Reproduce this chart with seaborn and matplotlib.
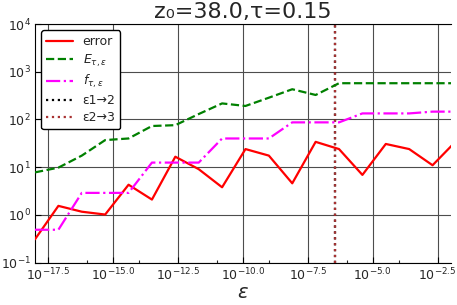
import numpy as np
import pandas as pd
import matplotlib
matplotlib.use("Agg")
import matplotlib.pyplot as plt
import matplotlib.ticker as mtick
import seaborn as sns

# exponents of epsilon (x values are 10**eps_exp)
eps_exp = [-18.0, -17.1, -16.2, -15.3, -14.4, -13.5, -12.6, -11.7, -10.8, -9.9,
           -9.0, -8.1, -7.2, -6.3, -5.4, -4.5, -3.6, -2.7, -1.8]
error = [0.31, 1.55, 1.17, 1.02, 4.3, 2.1, 16.6, 9.1, 3.8, 24,
         17.5, 4.6, 34, 24, 6.9, 30.7, 24, 11, 35]
E_te = [7.8, 9.8, 17.5, 37, 40, 73, 76, 130, 217, 192,
        286, 430, 326, 575, 575, 575, 575, 575, 575]
f_te = [0.49, 0.49, 2.9, 2.9, 2.9, 12.5, 12.5, 12.5, 40, 40,
        40, 87, 87, 87, 134, 134, 134, 146, 146]
eps12_exp = -6.45
eps23_exp = -6.45
xtick_exp = [-17.5, -15.0, -12.5, -10.0, -7.5, -5.0, -2.5]
xminor_exp = [-16, -14, -11, -9, -6, -4]
ytick_exp = [-1, 0, 1, 2, 3, 4]

sns.set_style("ticks")
plt.rcParams["font.family"] = ["DejaVu Sans"]
plt.rcParams["mathtext.fontset"] = "dejavusans"

df = pd.DataFrame({"eps": [10 ** e for e in eps_exp], "error": error, "E": E_te, "f": f_te})

fig = plt.figure(figsize=(4.57, 3.05), dpi=100)
ax = fig.add_axes([0.0766, 0.1387, 0.9103, 0.7826])

ax.axvline(10 ** eps12_exp, color="black", linestyle=":", linewidth=1.6, label="ε1→2", zorder=1)
sns.lineplot(data=df, x="eps", y="error", ax=ax, color="red", linewidth=1.6, label="error", zorder=3)
sns.lineplot(data=df, x="eps", y="E", ax=ax, color="green", linewidth=1.6, linestyle="--",
             label=r"$E_{\tau,\epsilon}$", zorder=3)
sns.lineplot(data=df, x="eps", y="f", ax=ax, color="magenta", linewidth=1.6, linestyle="-.",
             label=r"$f_{\tau,\epsilon}$", zorder=3)
ax.axvline(10 ** eps23_exp, color="#a83232", linestyle=":", linewidth=1.6, label="ε2→3", zorder=2)

ax.set_xscale("log")
ax.set_yscale("log")
ax.set_xlim(1e-18, 10 ** -1.99)
ax.set_ylim(1e-1, 1e4)

ax.xaxis.set_major_locator(mtick.FixedLocator([10 ** e for e in xtick_exp]))
ax.xaxis.set_minor_locator(mtick.FixedLocator([10 ** e for e in xminor_exp]))
ax.xaxis.set_major_formatter(mtick.FuncFormatter(lambda v, _: f"$10^{{{np.log10(v):.1f}}}$"))
ax.xaxis.set_minor_formatter(mtick.NullFormatter())
ax.yaxis.set_major_locator(mtick.FixedLocator([10.0 ** e for e in ytick_exp]))
ax.yaxis.set_minor_locator(mtick.NullLocator())
ax.yaxis.set_major_formatter(mtick.FuncFormatter(lambda v, _: f"$10^{{{int(round(np.log10(v)))}}}$"))

ax.tick_params(axis="both", which="major", direction="in", labelsize=9, length=4, width=0.8, pad=3, color="black")
ax.tick_params(axis="x", which="minor", direction="in", length=2.5, width=0.8)
ax.grid(True, which="major", color="0.3", linewidth=0.8)
ax.set_axisbelow(True)
ax.spines["right"].set_visible(False)
for s in ["left", "top", "bottom"]:
    ax.spines[s].set_color("black")
    ax.spines[s].set_linewidth(0.8)

ax.set_title("z₀=38.0,τ=0.15", fontsize=16, pad=4)
ax.set_xlabel(r"$\epsilon$", fontsize=14, labelpad=0)
ax.set_ylabel("")

handles, labels = ax.get_legend_handles_labels()
order = ["error", r"$E_{\tau,\epsilon}$", r"$f_{\tau,\epsilon}$", "ε1→2", "ε2→3"]
hmap = dict(zip(labels, handles))
leg = ax.legend([hmap[l] for l in order], order, loc="upper left", fontsize=9,
                frameon=True, fancybox=True, framealpha=1, edgecolor="black",
                handlelength=2.1, borderaxespad=0.5, labelspacing=0.32)
leg.get_frame().set_linewidth(1.0)

fig.savefig("out.png", dpi=100)
